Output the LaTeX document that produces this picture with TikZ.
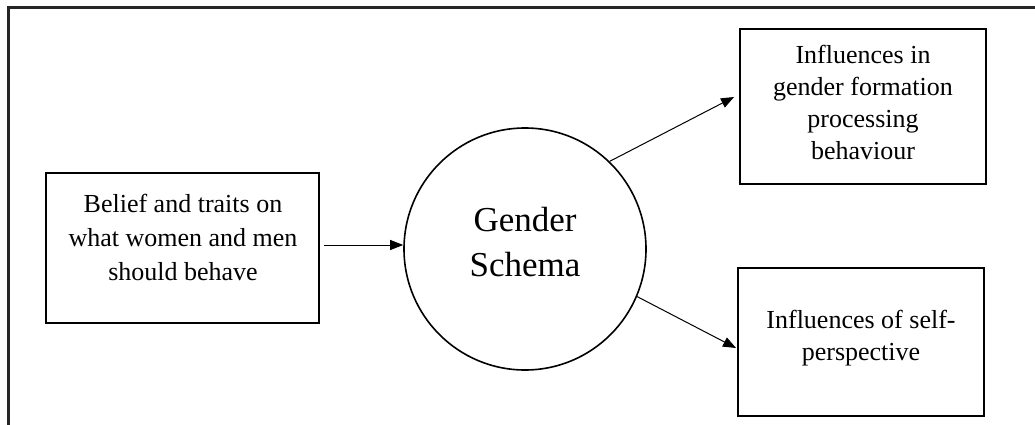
\documentclass[tikz,border=0pt]{standalone}
\usepackage{fontspec}
\setmainfont{Liberation Serif}
\usetikzlibrary{arrows.meta}
\tikzset{
  frameline/.style={line width=2.2pt, draw=black!85},
  box/.style={draw=black, line width=1.9pt, rectangle, inner sep=0pt},
  bigcircle/.style={draw=black, line width=1.6pt, circle, inner sep=0pt, minimum size=242pt},
  boxtext/.style={align=center, inner sep=0pt, font=\fontsize{26}{32}\selectfont},
  circletext/.style={align=center, inner sep=0pt, font=\fontsize{35}{45}\selectfont},
  link/.style={line width=1pt, -{Triangle[length=13pt,width=10pt]}}
}
\begin{document}
\begin{tikzpicture}[x=1pt,y=-1pt]
\useasboundingbox (0,0) rectangle (1035,425);
% partial outer frame: top and left edges
\coordinate (fTL) at (8.5,7.5);
\coordinate (fTR) at (1035,7.5);
\coordinate (fBL) at (8.5,425);
\draw[frameline] (fBL) -- (fTL) -- (fTR);

% boxes
\node[box, minimum width=273pt, minimum height=150pt] (belief) at (182.5,248) {};
\node[boxtext, font=\fontsize{26}{34}\selectfont] (beliefT) at (183,237.6) {Belief and traits on\\what women and men\\should behave};

\node[bigcircle] (schema) at (525,249) {};
\node[circletext] (schemaT) at (525,241.6) {Gender\\Schema};

\node[box, minimum width=246pt, minimum height=155pt] (formation) at (863,106.5) {};
\node[boxtext] (formationT) at (863,102.1) {Influences in\\gender formation\\processing\\behaviour};

\node[box, minimum width=246pt, minimum height=148pt] (self) at (861,342) {};
\node[boxtext] (selfT) at (861,337.9) {Influences of self-\\perspective};

% connectors
\coordinate (a1s) at ([xshift=4pt,yshift=3pt]belief.east);
\coordinate (a1e) at (schema.west |- a1s);
\draw[link] (a1s) -- (a1e);

\coordinate (a2e) at ([xshift=-5pt,yshift=9.5pt]formation.west);
\draw[link] (schema.46) -- (a2e);

\coordinate (a3e) at ([xshift=-1pt,yshift=-6pt]self.west);
\draw[link] (schema.-23.6) -- (a3e);
\end{tikzpicture}
\end{document}
